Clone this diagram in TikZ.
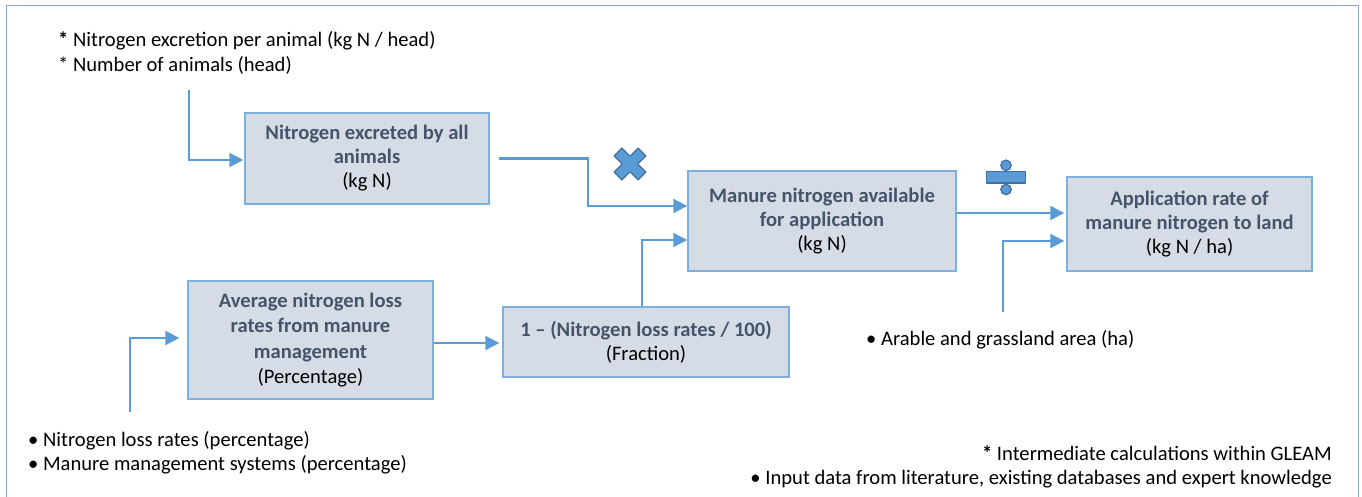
\documentclass[tikz,border=0pt]{standalone}
\usepackage{fontspec}
\setmainfont{Carlito}
\usetikzlibrary{arrows.meta,calc}
\definecolor{boxfill}{HTML}{D6DCE5}
\definecolor{boxdraw}{HTML}{7EB0DE}
\definecolor{arrowc}{HTML}{5B9BD5}
\definecolor{symdraw}{HTML}{41719C}
\definecolor{titlec}{HTML}{44546A}
\definecolor{framec}{HTML}{8AA8D0}
\tikzset{
  calcbox/.style={draw=boxdraw, line width=1.4pt, fill=boxfill, align=center, inner sep=0pt,
    font=\fontsize{20.6}{24}\selectfont},
  flow/.style={draw=arrowc, line width=2.2pt, -{Triangle[length=14pt,width=14pt]}},
  plain/.style={font=\fontsize{20.6}{24.5}\selectfont, inner sep=0pt},
  symb/.style={fill=arrowc, draw=symdraw, line width=1.3pt, line join=round}
}
\newcommand{\ttl}[1]{\textcolor{titlec}{\textbf{#1}}}
\begin{document}
\begin{tikzpicture}[x=1pt,y=-1pt]
\useasboundingbox (0,0) rectangle (1362,497);
\begin{scope}
\clip (0,0) rectangle (1362,497);
\draw[framec, line width=1.5pt] (6.5,520) -- (6.5,5.5) -- (1358.5,5.5) -- (1358.5,520);
\end{scope}

% boxes
\node[calcbox, minimum width=244pt, minimum height=91pt] (b1) at (367,158.5)
  {\ttl{Nitrogen excreted by all}\\\ttl{animals}\\(kg N)};
\node[calcbox, minimum width=268pt, minimum height=100pt] (b2) at (822,221)
  {\ttl{Manure nitrogen available}\\\ttl{for application}\\(kg N)};
\node[calcbox, minimum width=245pt, minimum height=94pt] (b3) at (1189.5,224)
  {\ttl{Application rate of}\\\ttl{manure nitrogen to land}\\(kg N / ha)};
\node[calcbox, minimum width=245pt, minimum height=118pt, font=\fontsize{20.6}{25.3}\selectfont] (b4) at (310.5,340)
  {\ttl{Average nitrogen loss}\\\ttl{rates from manure}\\\ttl{management}\\(Percentage)};
\node[calcbox, minimum width=286pt, minimum height=70pt] (b5) at (646,342)
  {\ttl{1 – (Nitrogen loss rates / 100)}\\(Fraction)};

% texts
\node[plain, anchor=west, align=left] (t1) at (58,53)
  {\textbf{*} Nitrogen excretion per animal (kg N / head)\\* Number of animals (head)};
\node[plain, anchor=west, align=left] (t2) at (28,452.5)
  {• Nitrogen loss rates (percentage)\\• Manure management systems (percentage)};
\node[plain, anchor=west] (t3) at (866,340) {• Arable and grassland area (ha)};
\node[plain, anchor=east, align=right] (t4) at (1332,467)
  {\textbf{*} Intermediate calculations within GLEAM\\• Input data from literature, existing databases and expert knowledge};

% free ends
\coordinate (c1) at (189,90);
\coordinate (c2) at (1003,312);
\coordinate (c3) at (130,412);

% connectors
\draw[flow] (c1) |- ([xshift=-1pt,yshift=-1.5pt]b1.west);
\draw[flow] ([xshift=9pt]b1.east) -- ++(89,0) |- ([yshift=15pt]b2.west);
\draw[flow] ([xshift=-4pt]b5.north) |- ([yshift=-19pt]b2.west);
\draw[flow] ([yshift=8pt]b2.east) -- ([yshift=11pt,xshift=-2pt]b3.west);
\draw[flow] (c2) |- ([xshift=-2pt,yshift=-17pt]b3.west);
\draw[flow] (c3) |- ([xshift=-8pt,yshift=2pt]b4.west);
\draw[flow] ([yshift=-3pt]b4.east) -- ([xshift=-3pt,yshift=-1pt]b5.west);

% multiply sign
\begin{scope}[shift={(630,164)}, rotate=45]
\path[symb] (5.5,17) -- (5.5,5.5) -- (17,5.5) -- (17,-5.5) -- (5.5,-5.5) -- (5.5,-17)
  -- (-5.5,-17) -- (-5.5,-5.5) -- (-17,-5.5) -- (-17,5.5) -- (-5.5,5.5) -- (-5.5,17) -- cycle;
\end{scope}
% divide sign
\path[symb] (986.5,171.5) rectangle (1025.5,183);
\path[symb] (1006,165.3) circle (5.2);
\path[symb] (1006,189.5) circle (5.2);
\end{tikzpicture}
\end{document}
